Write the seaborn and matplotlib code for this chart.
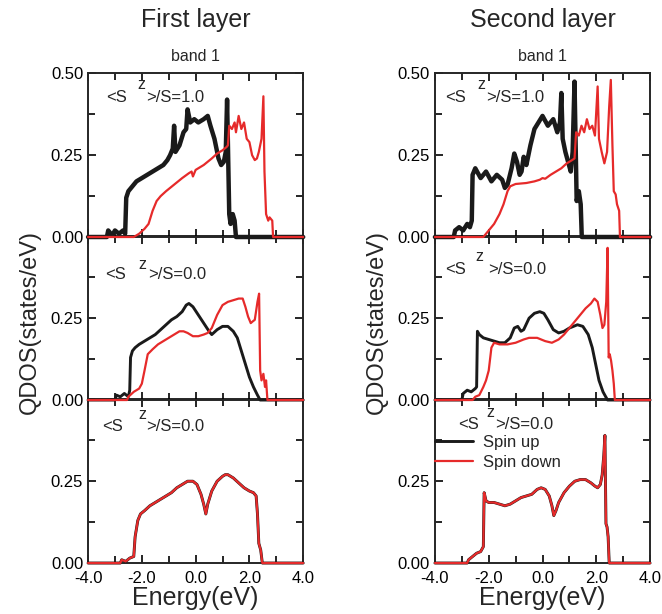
import matplotlib
matplotlib.use('Agg')
import matplotlib.pyplot as plt
import seaborn as sns
import pandas as pd
from matplotlib.ticker import MultipleLocator, FixedLocator

# ---- data (energy in eV, QDOS in states/eV) ----
# First layer, <Sz>/S = 1.0
l1_top_up_x = [-4, -3.3, -3.25, -3.1, -3.0, -2.85, -2.7, -2.62, -2.58, -2.5, -2.4, -2.3, -2.2, -2.0, -1.8,
               -1.6, -1.4, -1.2, -1.05, -0.95, -0.85, -0.8, -0.75, -0.6, -0.45, -0.35, -0.3, -0.2, -0.05,
               0.1, 0.3, 0.45, 0.55, 0.7, 0.85, 0.95, 1.05, 1.12, 1.17, 1.25, 1.3, 1.38, 1.45, 1.5, 4]
l1_top_up_y = [0, 0, 0.02, 0.005, 0.02, 0.01, 0.02, 0.01, 0.12, 0.14, 0.15, 0.16, 0.17, 0.18, 0.19,
               0.20, 0.21, 0.22, 0.235, 0.25, 0.27, 0.34, 0.26, 0.28, 0.32, 0.33, 0.39, 0.35, 0.36,
               0.35, 0.36, 0.37, 0.34, 0.30, 0.24, 0.22, 0.23, 0.26, 0.42, 0.07, 0.04, 0.07, 0.05, 0, 0]
l1_top_dn_x = [-4, -2.3, -2.1, -1.9, -1.75, -1.6, -1.45, -1.3, -1.1, -0.8, -0.5, -0.25, -0.15, -0.1, 0.0,
               0.3, 0.6, 0.8, 1.0, 1.15, 1.2, 1.25, 1.35, 1.45, 1.5, 1.6, 1.7, 1.8, 1.9, 2.0, 2.1, 2.2,
               2.28, 2.35, 2.45, 2.52, 2.56, 2.62, 2.7, 2.75, 2.85, 2.88, 4]
l1_top_dn_y = [0, 0, 0.01, 0.025, 0.04, 0.08, 0.11, 0.125, 0.14, 0.16, 0.18, 0.195, 0.20, 0.185, 0.205,
               0.22, 0.24, 0.255, 0.265, 0.275, 0.28, 0.34, 0.33, 0.35, 0.32, 0.37, 0.33, 0.35, 0.30,
               0.29, 0.25, 0.235, 0.24, 0.26, 0.30, 0.43, 0.20, 0.07, 0.05, 0.06, 0.05, 0, 0]

# Second layer, <Sz>/S = 1.0
l2_top_up_x = [-4, -3.3, -3.25, -3.1, -2.95, -2.8, -2.7, -2.63, -2.6, -2.5, -2.3, -2.1, -1.9, -1.7, -1.5,
               -1.4, -1.3, -1.15, -1.05, -0.95, -0.85, -0.78, -0.7, -0.6, -0.45, -0.3, -0.15, 0.0, 0.2,
               0.4, 0.55, 0.65, 0.7, 0.75, 0.85, 0.95, 1.05, 1.12, 1.19, 1.27, 1.35, 1.42, 1.46, 4]
l2_top_up_y = [0, 0, 0.02, 0.03, 0.02, 0.04, 0.03, 0.05, 0.19, 0.21, 0.18, 0.20, 0.17, 0.19, 0.175,
               0.15, 0.16, 0.21, 0.255, 0.23, 0.19, 0.2, 0.245, 0.22, 0.28, 0.33, 0.35, 0.37, 0.34,
               0.36, 0.32, 0.35, 0.44, 0.30, 0.26, 0.23, 0.2, 0.26, 0.475, 0.11, 0.14, 0.10, 0, 0]
l2_top_dn_x = [-4, -2.2, -2.0, -1.8, -1.6, -1.45, -1.3, -1.2, -1.0, -0.6, -0.3, -0.1, 0.0, 0.1, 0.3,
               0.5, 0.7, 0.9, 1.1, 1.19, 1.25, 1.35, 1.45, 1.55, 1.65, 1.75, 1.85, 1.95, 2.05, 2.1,
               2.2, 2.3, 2.4, 2.48, 2.54, 2.6, 2.65, 2.72, 2.77, 2.85, 2.88, 4]
l2_top_dn_y = [0, 0, 0.02, 0.04, 0.07, 0.10, 0.14, 0.155, 0.162, 0.165, 0.17, 0.175, 0.18, 0.178, 0.19,
               0.20, 0.21, 0.225, 0.235, 0.24, 0.32, 0.31, 0.34, 0.32, 0.36, 0.33, 0.34, 0.31, 0.46,
               0.30, 0.26, 0.225, 0.26, 0.40, 0.48, 0.28, 0.14, 0.13, 0.10, 0.08, 0, 0]

# First layer, <Sz>/S = 0.0 (middle)
l1_mid_up_x = [-4, -3.0, -2.95, -2.8, -2.65, -2.5, -2.45, -2.42, -2.35, -2.25, -2.1, -1.9, -1.7, -1.5,
               -1.3, -1.1, -0.9, -0.7, -0.5, -0.35, -0.25, -0.1, 0.1, 0.3, 0.5, 0.6, 0.8, 1.0, 1.2,
               1.4, 1.55, 1.7, 1.85, 2.0, 2.15, 2.3, 2.4, 4]
l1_mid_up_y = [0, 0, 0.015, 0.01, 0.02, 0.01, 0.03, 0.13, 0.15, 0.16, 0.17, 0.18, 0.19, 0.20,
               0.215, 0.23, 0.245, 0.255, 0.27, 0.29, 0.295, 0.285, 0.26, 0.235, 0.21, 0.20, 0.215,
               0.225, 0.225, 0.21, 0.19, 0.15, 0.11, 0.07, 0.04, 0.015, 0, 0]
l1_mid_dn_x = [-4, -2.55, -2.5, -2.3, -2.1, -2.0, -1.9, -1.78, -1.6, -1.4, -1.2, -1.0, -0.8, -0.6,
               -0.45, -0.3, -0.1, 0.1, 0.3, 0.45, 0.6, 0.8, 1.0, 1.2, 1.4, 1.6, 1.75, 1.85, 1.95,
               2.05, 2.12, 2.2, 2.3, 2.36, 2.4, 2.45, 2.52, 2.58, 2.62, 2.67, 4]
l1_mid_dn_y = [0, 0, 0.01, 0.025, 0.035, 0.05, 0.09, 0.14, 0.155, 0.17, 0.18, 0.19, 0.20, 0.21,
               0.21, 0.205, 0.195, 0.195, 0.20, 0.205, 0.22, 0.26, 0.29, 0.30, 0.305, 0.31, 0.31,
               0.285, 0.255, 0.235, 0.24, 0.245, 0.30, 0.325, 0.09, 0.06, 0.08, 0.04, 0.06, 0, 0]

# Second layer, <Sz>/S = 0.0 (middle)
l2_mid_up_x = [-4, -3.0, -2.95, -2.8, -2.65, -2.5, -2.45, -2.42, -2.35, -2.2, -2.0, -1.8, -1.6, -1.4,
               -1.2, -1.05, -0.92, -0.8, -0.7, -0.5, -0.3, -0.1, 0.05, 0.2, 0.4, 0.6, 0.8, 1.0, 1.3,
               1.5, 1.7, 1.85, 1.95, 2.1, 2.25, 2.35, 2.42, 4]
l2_mid_up_y = [0, 0, 0.02, 0.03, 0.025, 0.035, 0.04, 0.21, 0.20, 0.19, 0.185, 0.18, 0.175, 0.175,
               0.19, 0.22, 0.225, 0.21, 0.215, 0.25, 0.265, 0.27, 0.265, 0.245, 0.215, 0.205, 0.21,
               0.22, 0.23, 0.225, 0.20, 0.16, 0.12, 0.06, 0.025, 0.01, 0, 0]
l2_mid_dn_x = [-4, -2.6, -2.5, -2.35, -2.2, -2.1, -2.0, -1.9, -1.8, -1.6, -1.3, -1.0, -0.7, -0.5,
               -0.2, 0.1, 0.35, 0.6, 0.8, 1.0, 1.2, 1.4, 1.6, 1.8, 1.93, 2.05, 2.15, 2.23, 2.3, 2.37,
               2.42, 2.46, 2.5, 2.55, 2.6, 2.65, 2.69, 4]
l2_mid_dn_y = [0, 0, 0.01, 0.015, 0.04, 0.06, 0.09, 0.16, 0.175, 0.17, 0.17, 0.175, 0.185, 0.19,
               0.19, 0.18, 0.175, 0.185, 0.20, 0.22, 0.24, 0.26, 0.28, 0.295, 0.31, 0.30, 0.26,
               0.22, 0.23, 0.30, 0.465, 0.13, 0.14, 0.12, 0.09, 0.05, 0, 0]

# bottom row: spin up and spin down coincide
l1_bot_x = [-4, -2.8, -2.75, -2.6, -2.45, -2.3, -2.25, -2.15, -2.05, -1.9, -1.7, -1.5, -1.3, -1.1,
            -0.9, -0.7, -0.5, -0.3, -0.1, 0.05, 0.2, 0.3, 0.38, 0.45, 0.6, 0.8, 1.0, 1.1, 1.2, 1.4,
            1.6, 1.8, 2.0, 2.15, 2.25, 2.3, 2.35, 2.42, 2.48, 4]
l1_bot_y = [0, 0, 0.01, 0.005, 0.015, 0.02, 0.08, 0.13, 0.15, 0.16, 0.175, 0.185, 0.195, 0.205,
            0.215, 0.23, 0.24, 0.25, 0.25, 0.24, 0.21, 0.18, 0.15, 0.18, 0.22, 0.25, 0.265, 0.27,
            0.27, 0.26, 0.245, 0.23, 0.22, 0.215, 0.205, 0.15, 0.06, 0.04, 0, 0]
l2_bot_x = [-4, -2.8, -2.75, -2.6, -2.45, -2.3, -2.2, -2.17, -2.1, -2.0, -1.8, -1.6, -1.4, -1.2, -1.0,
            -0.8, -0.6, -0.4, -0.2, -0.05, 0.1, 0.25, 0.35, 0.42, 0.5, 0.6, 0.8, 1.0, 1.2, 1.4, 1.6,
            1.8, 1.95, 2.05, 2.15, 2.22, 2.28, 2.32, 2.36, 2.4, 2.44, 2.48, 4]
l2_bot_y = [0, 0, 0.01, 0.02, 0.03, 0.035, 0.05, 0.215, 0.19, 0.185, 0.185, 0.18, 0.175, 0.18, 0.19,
            0.20, 0.205, 0.21, 0.225, 0.23, 0.225, 0.205, 0.175, 0.145, 0.16, 0.185, 0.215, 0.235,
            0.25, 0.255, 0.255, 0.245, 0.235, 0.23, 0.24, 0.27, 0.33, 0.39, 0.12, 0.11, 0.08, 0, 0]

col_titles = ['First layer', 'Second layer']
sz_labels = ['1.0', '0.0', '0.0']
x_ticks = [-4, -2, 0, 2, 4]

sns.set_style('ticks')
plt.rcParams['font.family'] = ['Liberation Sans', 'DejaVu Sans']
plt.rcParams['axes.linewidth'] = 1.4

BLACK = '#1a1a1a'
RED = '#e62a2a'

fig = plt.figure(figsize=(6.62, 6.14), dpi=100)

# panel geometry in figure fractions
col_left = [0.133, 0.657]
row_bottom = [0.614, 0.3485, 0.083]
ax_w, ax_h = 0.325, 0.2665

curves = [
    [(l1_top_up_x, l1_top_up_y, l1_top_dn_x, l1_top_dn_y),
     (l1_mid_up_x, l1_mid_up_y, l1_mid_dn_x, l1_mid_dn_y),
     (l1_bot_x, l1_bot_y, l1_bot_x, l1_bot_y)],
    [(l2_top_up_x, l2_top_up_y, l2_top_dn_x, l2_top_dn_y),
     (l2_mid_up_x, l2_mid_up_y, l2_mid_dn_x, l2_mid_dn_y),
     (l2_bot_x, l2_bot_y, l2_bot_x, l2_bot_y)],
]

# label positions inside each panel (axes fraction): "<S", "z", ">/S=..."
lab_pos = [
    [((0.084, 0.854), (0.228, 0.935), (0.272, 0.854)),
     ((0.079, 0.767), (0.233, 0.830), (0.280, 0.767)),
     ((0.065, 0.834), (0.233, 0.905), (0.270, 0.834))],
    [((0.047, 0.854), (0.195, 0.935), (0.238, 0.854)),
     ((0.047, 0.800), (0.186, 0.880), (0.245, 0.800)),
     ((0.107, 0.847), (0.240, 0.918), (0.280, 0.847))],
]

for c in range(2):
    for r in range(3):
        ax = fig.add_axes([col_left[c], row_bottom[r], ax_w, ax_h])
        # upper panels on top so their zero lines are not hidden by the next spine
        ax.set_zorder(10 - r)
        ax.patch.set_alpha(0)
        for sp in ax.spines.values():
            sp.set_zorder(1)
        ux, uy, dx, dy = curves[c][r]
        up = pd.DataFrame({'E': ux, 'Q': uy})
        dn = pd.DataFrame({'E': dx, 'Q': dy})
        lw_up = 3.2 if r == 0 else 2.1
        sns.lineplot(data=up, x='E', y='Q', ax=ax, color=BLACK, lw=lw_up, estimator=None,
                     sort=False, label='Spin up', clip_on=False, zorder=3)
        sns.lineplot(data=dn, x='E', y='Q', ax=ax, color=RED, lw=1.6, estimator=None,
                     sort=False, label='Spin down', clip_on=False, zorder=4)

        ax.set_xlim(-4, 4)
        ax.set_ylim(0, 0.5)
        ax.xaxis.set_major_locator(FixedLocator(x_ticks))
        ax.xaxis.set_minor_locator(MultipleLocator(1))
        if r == 0:
            ax.yaxis.set_major_locator(FixedLocator([0, 0.25, 0.5]))
        else:
            ax.yaxis.set_major_locator(FixedLocator([0, 0.25]))
        ax.yaxis.set_minor_locator(MultipleLocator(0.125))
        ax.tick_params(which='both', direction='in', top=True, right=True, width=1.2,
                       labelsize=12, colors='black')
        ax.tick_params(which='major', length=6)
        ax.tick_params(which='minor', length=5)
        ax.tick_params(axis='x', pad=6)
        ax.yaxis.set_major_formatter(plt.FormatStrFormatter('%.2f'))
        ax.xaxis.set_major_formatter(plt.FormatStrFormatter('%.1f'))
        ax.set_xlabel('')
        ax.set_ylabel('')
        if r < 2:
            ax.tick_params(labelbottom=False)
        else:
            ax.set_xlabel('Energy(eV)', fontsize=18, labelpad=0)
        if r == 0:
            ax.set_title('band 1', fontsize=11.5, pad=9)

        # <S^z>/S label
        p1, p2, p3 = lab_pos[c][r]
        ax.text(p1[0], p1[1], '<S', transform=ax.transAxes, fontsize=12, va='center', ha='left')
        ax.text(p2[0], p2[1], 'z', transform=ax.transAxes, fontsize=11.5, va='center', ha='left')
        ax.text(p3[0], p3[1], '>/S=' + sz_labels[r], transform=ax.transAxes, fontsize=12,
                va='center', ha='left')

        if c == 1 and r == 2:
            ax.legend(loc='upper left', bbox_to_anchor=(0.0, 0.785), frameon=False,
                      fontsize=12, handlelength=2.3, handletextpad=0.6, borderaxespad=0,
                      borderpad=0, labelspacing=0.3)
        else:
            ax.get_legend().remove()

    # column header and y label
    cx = col_left[c] + ax_w / 2
    fig.text(cx, 0.968, col_titles[c], fontsize=18, ha='center', va='center')
    fig.text(col_left[c] - 0.088, 0.475, 'QDOS(states/eV)', fontsize=17, rotation=90,
             ha='center', va='center')

fig.savefig('out.png', dpi=100)
